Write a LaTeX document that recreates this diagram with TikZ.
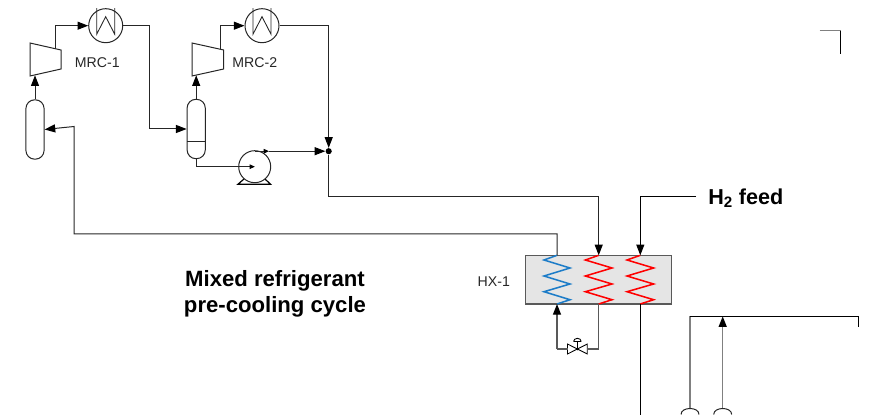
\documentclass[tikz,border=0pt]{standalone}
\usepackage{fontspec}
\setmainfont{Liberation Sans}
\usetikzlibrary{arrows.meta,calc}
\definecolor{pipe}{HTML}{262626}
\definecolor{pipegray}{HTML}{595959}
\definecolor{coldz}{HTML}{1C7CC8}
\definecolor{hotz}{HTML}{FF0000}
\tikzset{
  x=0.75pt,y=-0.75pt,
  bigtip/.tip={Triangle[length=8pt,width=6pt,color=black]},
  pipeline/.style={draw=pipe,line width=0.75pt},
  flow/.style={pipeline,-bigtip},
  grayflow/.style={draw=pipegray,line width=1pt,-bigtip},
  grayline/.style={draw=pipegray,line width=1pt},
  blackline/.style={draw=black,line width=0.7pt},
  blackflow/.style={blackline,-bigtip},
  smallflow/.style={pipeline,-{Triangle[length=4pt,width=3.4pt,color=black]}},
  vesselbox/.style={draw=pipe,line width=0.75pt,fill=white,rectangle,rounded corners=6.5pt,minimum width=13.6pt,minimum height=44.5pt,inner sep=0pt},
  coolerbox/.style={draw=pipe,line width=0.75pt,fill=white,circle,minimum size=25.5pt,inner sep=0pt},
  pumpbox/.style={draw=pipe,line width=0.75pt,fill=white,circle,minimum size=24pt,inner sep=0pt},
  hxbox/.style={draw=pipegray,line width=1pt,fill=black!10,rectangle,minimum width=109.5pt,minimum height=36.5pt,inner sep=0pt},
  dotnode/.style={circle,fill=black,minimum size=4.6pt,inner sep=0pt},
  labeltext/.style={font=\fontsize{10.6pt}{12pt}\selectfont,text=black!85,inner sep=0pt},
  titletext/.style={font=\fontsize{16.6pt}{19.5pt}\selectfont\bfseries,text=black,inner sep=0pt,align=center},
  feedtext/.style={font=\fontsize{16.2pt}{19.5pt}\selectfont\bfseries,text=black,inner sep=0pt},
  comp/.style={draw=pipe,line width=0.75pt,fill=white,line join=miter},
  thinpart/.style={draw=pipe,line width=0.65pt},
}
\newcommand{\coolerinside}[1]{%
  \draw[thinpart] ($(#1)+(-9,-17.5)$) -- ($(#1)+(-9,8.5)$) -- ($(#1)+(0,-9)$) -- ($(#1)+(9,8.5)$) -- ($(#1)+(9,-17.5)$);}
\newcommand{\zigzag}[3]{%
  \draw[draw=#3,line width=1.15pt,line join=miter] ($(#1)$) -- ++(-#2,4.7) -- ++(2*#2,8) -- ++(-2*#2,8) -- ++(2*#2,8) -- ++(-2*#2,7.7) -- ++(2*#2,8) -- ($(#1)+(0,48.7)$);}
\begin{document}
\begin{tikzpicture}
\useasboundingbox (0,0) rectangle (877,420);

% equipment
\node[vesselbox] (v1) at (35,129.5) {};
\node[vesselbox,minimum height=44.5pt] (v2) at (196.2,129) {};
\draw[thinpart] (187,141.7) -- (205.3,141.7);
\node[coolerbox] (c1) at (105.7,25.7) {};
\coolerinside{c1}
\node[coolerbox] (c2) at (262,25.7) {};
\coolerinside{c2}
\path[comp,draw,fill=white] (30,43) coordinate (k1a) -- (61,50) coordinate (k1b) -- (61,69) -- (30,76) coordinate (k1c) -- cycle;
\path[comp,draw,fill=white] (192,43) -- (223.7,50) -- (223.7,69) -- (192,76) coordinate (k2c) -- cycle;
\coordinate (k1in) at (35,75.3);
\coordinate (k1out) at (55.7,48.7);
\coordinate (k2in) at (196.2,75.3);
\coordinate (k2out) at (220,49.2);

% pump
\draw[draw=black,line width=0.9pt,fill=white] (244,179) -- (238,184.2) -- (270.5,184.2) -- (265,179);
\node[pumpbox] (p) at (254.7,166.7) {};
\coordinate (pin) at (254.9,166.7);
\coordinate (pout) at (254.7,151.2);
\node[dotnode] (mix) at (328.7,151.2) {};

% heat exchanger
\node[hxbox] (hx) at (598.7,279.7) {};
\coordinate (hxa) at (557,255.3);
\coordinate (hxb) at (598.7,255.3);
\coordinate (hxc) at (640.3,255.3);
\coordinate (hxd) at (557,304);
\coordinate (hxe) at (598.7,304);
\coordinate (hxf) at (640.3,304);
\zigzag{hxa}{13}{coldz}
\zigzag{hxb}{13.3}{hotz}
\zigzag{hxc}{13.3}{hotz}

% valve
\coordinate (vl) at (567.5,349);
\coordinate (vr) at (587.3,349);
\coordinate (vc) at (577.4,349);
\draw[draw=black,line width=0.65pt,fill=white] (567.5,344) -- (587.3,354) -- (587.3,344) -- (567.5,354) -- cycle;
\draw[draw=black,line width=0.65pt] (vc) -- (577.4,341.5);
\draw[draw=black,line width=0.65pt] (573.6,341.5) -- (581.2,341.5) (573.6,341.5) arc[start angle=180,end angle=360,x radius=3.8,y radius=3.2];
\fill[black] (vc) circle[radius=1.4];

% pipes upper
\draw[flow] (k1out) |- (c1.west);
\draw[flow] (c1.east) -- (149,25.7) |- (v2.west);
\draw[flow] (v1.north) -- (k1in);
\draw[flow] (k2out) |- (c2.west);
\draw[flow] (v2.north) -- (k2in);
\draw[pipeline] (v2.south) |- (240,166.7);
\draw[smallflow] (238,166.7) -- (pin);
\draw[smallflow] (pout) -- (269,151.2);
\draw[flow] (269,151.2) -- (mix.west);
\draw[flow] (c2.east) -| (mix.north);
\coordinate (feedcorner) at (696,196.8);

% pipes to the exchanger
\draw[flow] (mix.south) |- (598.7,197) -- (hxb);
\draw[flow] (hxa) |- (74,234) -- (74,126.5) -- (v1.east);
\draw[blackflow] (feedcorner) -- (640.3,196.8) -- (hxc);
\draw[blackline] (hxf) -- (640.3,415);
\draw[grayline] (hxe) |- (vr);
\draw[grayline] (vl) -- (557,349);
\draw[grayflow] (557,349) -- (hxd);

% right side
\coordinate (lefttop) at (690,316.3);
\coordinate (midtop) at (722.7,316.3);
\coordinate (rt) at (858.5,316.3);
\coordinate (lb1) at (690,408);
\coordinate (lb2) at (722.7,408);
\draw[draw=gray,line width=1.1pt] (lb1) -- (lefttop);
\draw[draw=gray,line width=1.1pt,-bigtip] (lb2) -- (midtop);
\draw[blackline] (lefttop) -- (rt) -- (858.5,327);
\draw[pipeline] (681,414.5) .. controls (681,406.5) and (699,406.5) .. (699,414.5);
\draw[pipeline] (713.7,414.5) .. controls (713.7,406.5) and (731.7,406.5) .. (731.7,414.5);

% top right corner
\coordinate (ca) at (819.5,30.7);
\coordinate (cb) at (840.5,30.7);
\coordinate (cc) at (840.5,54.3);
\draw[draw=gray,line width=1pt] (ca) -- (cb);
\draw[blackline] (cb) -- (cc);

% labels
\node[labeltext] (mrc1) at (97.3,63) {MRC-1};
\node[labeltext] (mrc2) at (254.8,63) {MRC-2};
\node[labeltext] (hxl) at (493.8,281.5) {HX-1};
\node[titletext] (title) at (275,293.8) {Mixed refrigerant\\pre-cooling cycle};
\node[feedtext,anchor=west] (feed) at (708,198.3) {H$_{\mathbf{2}}$ feed};
\end{tikzpicture}
\end{document}
